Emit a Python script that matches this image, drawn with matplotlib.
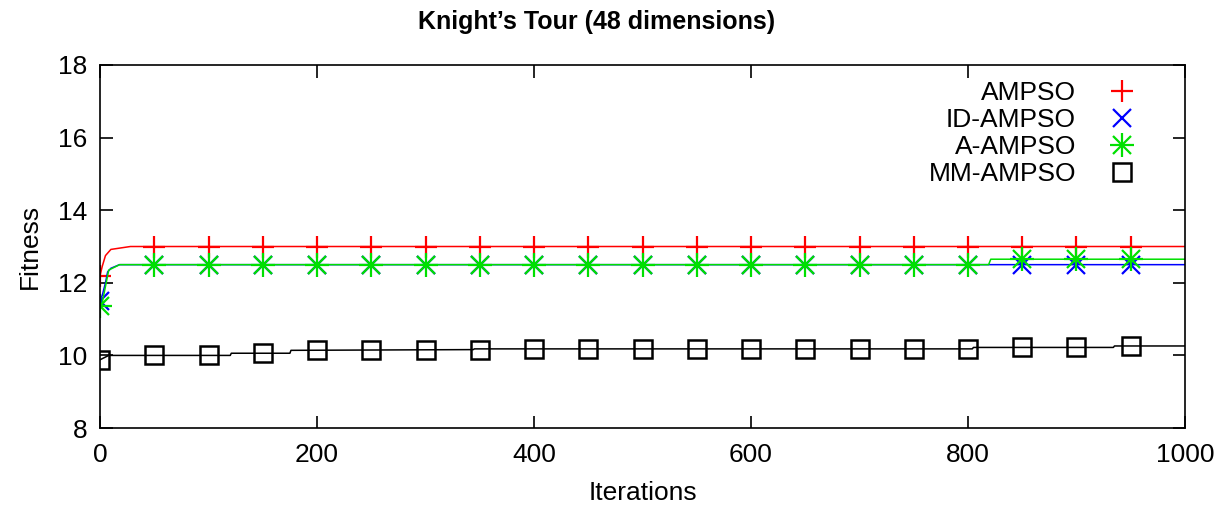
import numpy as np
import matplotlib
matplotlib.use("Agg")
import matplotlib.pyplot as plt
from matplotlib.lines import Line2D

# Line data (iteration, fitness)
ampso_it = [0, 2, 5, 10, 28, 1000]
ampso_fit = [12.2, 12.45, 12.75, 12.92, 13.0, 13.0]

id_it = [0, 2, 5, 7, 10, 18, 1000]
id_fit = [11.55, 11.65, 12.0, 12.3, 12.4, 12.5, 12.5]

a_it = [0, 2, 5, 8, 18, 819, 821, 1000]
a_fit = [11.35, 11.45, 11.9, 12.35, 12.5, 12.5, 12.65, 12.65]

mm_it = [0, 8, 120, 121, 175, 176, 344, 345, 804, 805, 934, 935, 1000]
mm_fit = [9.88, 10.0, 10.0, 10.06, 10.06, 10.14, 10.16, 10.18, 10.18,
          10.22, 10.22, 10.26, 10.26]

# Point samples every 50 iterations
pt_it = list(range(0, 1000, 50))
ampso_pts = [12.2] + [13.0] * 19
id_pts = [11.5] + [12.5] * 19
a_pts = [11.35] + [12.5] * 16 + [12.65] * 3
mm_pts = [9.86, 10.0, 10.0, 10.06, 10.14, 10.14, 10.14, 10.16, 10.18, 10.18,
          10.18, 10.18, 10.18, 10.18, 10.18, 10.18, 10.18, 10.22, 10.22, 10.26]

labels = ["AMPSO", "ID-AMPSO", "A-AMPSO", "MM-AMPSO"]
colors = ["#ff0000", "#0000ff", "#00e000", "#000000"]

plt.rcParams["font.family"] = ["Liberation Sans", "DejaVu Sans"]
fs = 19

fig = plt.figure(figsize=(12.2, 5.09), dpi=100)
ax = fig.add_axes([0.082, 0.1591, 0.8893, 0.7132])

ms = 16
mw = 1.6
ax.plot(ampso_it, ampso_fit, "-", color=colors[0], lw=1.1)
ax.plot(pt_it, ampso_pts, ls="none", marker="+", ms=ms, mew=mw, color=colors[0])
ax.plot(id_it, id_fit, "-", color=colors[1], lw=1.1)
ax.plot(pt_it, id_pts, ls="none", marker="x", ms=ms * 0.8, mew=mw, color=colors[1])
ax.plot(a_it, a_fit, "-", color=colors[2], lw=1.1)
ax.plot(pt_it, a_pts, ls="none", marker="x", ms=ms * 0.8, mew=mw, color=colors[2])
ax.plot(pt_it, a_pts, ls="none", marker="+", ms=ms * 1.05, mew=mw, color=colors[2])
ax.plot(mm_it, mm_fit, "-", color=colors[3], lw=1.1)
ax.plot(pt_it, mm_pts, ls="none", marker="s", ms=13, mfc="none",
        mec=colors[3], mew=1.8)

ax.set_xlim(0, 1000)
ax.set_ylim(8, 18)
ax.set_xticks(np.arange(0, 1001, 200))
ax.set_yticks(np.arange(8, 19, 2))
ax.tick_params(direction="in", length=9, width=1.2, top=True, right=True,
               labelsize=fs)
ax.tick_params(axis="x", pad=11)
ax.tick_params(axis="y", pad=9)
for s in ax.spines.values():
    s.set_linewidth(1.2)

fig.text(0.489, 0.957, "Knight\u2019s Tour (48 dimensions)", fontsize=18,
         fontweight="bold", ha="center", va="center")
ax.set_xlabel("Iterations", fontsize=fs, labelpad=10)
ax.set_ylabel("Fitness", fontsize=fs, labelpad=12)

# legend handles
h_a = Line2D([], [], ls="none", marker="+", ms=ms, mew=mw, color=colors[0])
h_id = Line2D([], [], ls="none", marker="x", ms=ms * 0.8, mew=mw, color=colors[1])
h_aa = (Line2D([], [], ls="none", marker="x", ms=ms * 0.8, mew=mw, color=colors[2]),
        Line2D([], [], ls="none", marker="+", ms=ms * 1.05, mew=mw, color=colors[2]))
h_mm = Line2D([], [], ls="none", marker="s", ms=13, mfc="none", mec=colors[3], mew=1.8)
ax.legend([h_a, h_id, h_aa, h_mm], labels, loc="upper right", markerfirst=False,
          frameon=False, fontsize=fs, handlelength=1.5, handletextpad=1.0,
          labelspacing=0.12, borderaxespad=0.2, bbox_to_anchor=(0.975, 1.0))

plt.savefig("out.png", dpi=100)
